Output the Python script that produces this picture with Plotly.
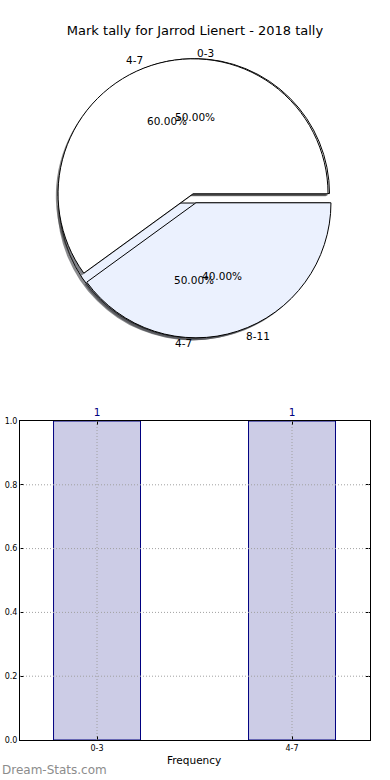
import numpy as np
import plotly.graph_objects as go

# ---------------- data ----------------
title_text = "Mark tally for Jarrod Lienert - 2018 tally"
pie1_labels = ["0-3", "4-7"]
pie1_values = [1, 1]
pie2_labels = ["4-7", "8-11"]
pie2_values = [3, 2]
bar_categories = ["0-3", "4-7"]
bar_values = [1, 1]
y_ticks = [0.0, 0.2, 0.4, 0.6, 0.8, 1.0]

# ---------------- geometry / style ----------------
W, H = 390, 780
FONT = "DejaVu Sans"
CX, CY = 194.5, 198.3          # pie centre (px)
R = 135                         # plotly pie radius (px)
PULL = 0.035
RX, RY = 141, 127.5             # reference ellipse radii for text placement
SIDE = 2 * R * (1 + PULL)
SHX, SHY = -2.2, 2.4            # shadow offset (px)
WEDGE_COLORS = ["#ffffff", "#ebf1fe"]
SHADOW_COLORS = ["rgba(60,60,60,0.6)", "rgba(60,62,66,0.6)"]
GRID = dict(color="#a0a0a0", width=1, dash="1px,2px")


def dom(cx, cy):
    return dict(x=[(cx - SIDE / 2) / W, (cx + SIDE / 2) / W],
                y=[1 - (cy + SIDE / 2) / H, 1 - (cy - SIDE / 2) / H])


def pie(labels, values, colors, cx, cy, line=True):
    # first slice starts at 3 o'clock and runs counter-clockwise
    rot = 90 - 360.0 * values[0] / sum(values)
    return go.Pie(
        labels=labels, values=values, sort=False, direction="counterclockwise",
        rotation=rot, pull=[PULL] * len(values), textinfo="none",
        hoverinfo="skip", showlegend=False, domain=dom(cx, cy),
        marker=dict(colors=colors,
                    line=dict(color="black" if line else "rgba(0,0,0,0)",
                              width=1 if line else 0)),
    )


fig = go.Figure()
for labels, values in [(pie1_labels, pie1_values), (pie2_labels, pie2_values)]:
    fig.add_trace(pie(labels, values, SHADOW_COLORS, CX + SHX, CY + SHY, line=False))
    fig.add_trace(pie(labels, values, WEDGE_COLORS, CX, CY))

# ---------------- pie texts (labels + percentages) ----------------
annotations = []
d = PULL * R
for labels, values in [(pie1_labels, pie1_values), (pie2_labels, pie2_values)]:
    vals = np.array(values, dtype=float)
    tot = vals.sum()
    cum = np.cumsum(vals)
    for lab, v, c in zip(labels, vals, cum):
        th = 2 * np.pi * (c - v / 2) / tot
        ox, oy = d * np.cos(th), d * np.sin(th)
        lx = CX + ox + 1.1 * RX * np.cos(th)
        ly = CY - oy - 1.1 * RY * np.sin(th)
        annotations.append(dict(
            x=lx / W, y=1 - ly / H, xref="paper", yref="paper", text=lab,
            showarrow=False, xanchor="left" if np.cos(th) > 0 else "right",
            yanchor="middle", font=dict(family=FONT, size=10.5, color="black")))
        px_ = CX + ox + 0.6 * RX * np.cos(th)
        py_ = CY - oy - 0.6 * RY * np.sin(th)
        annotations.append(dict(
            x=px_ / W, y=1 - py_ / H, xref="paper", yref="paper",
            text=f"{100 * v / tot:.2f}%", showarrow=False, xanchor="center",
            yanchor="middle", font=dict(family=FONT, size=10.5, color="black")))

# ---------------- bar chart ----------------
fig.add_trace(go.Bar(
    x=bar_categories, y=bar_values, width=0.446,
    marker=dict(color="#cccce6", line=dict(color="#000080", width=1)),
    text=[str(v) for v in bar_values], textposition="outside",
    textfont=dict(family=FONT, size=10.5, color="#000080"),
    cliponaxis=False, hoverinfo="skip", showlegend=False,
    xaxis="x", yaxis="y",
))

# dotted grid drawn above the bars (matplotlib style)
shapes = []
for t in y_ticks[1:-1]:
    shapes.append(dict(type="line", xref="x domain", yref="y", x0=0, x1=1,
                       y0=t, y1=t, line=GRID, layer="above"))
for c in bar_categories:
    shapes.append(dict(type="line", xref="x", yref="y domain", x0=c, x1=c,
                       y0=0, y1=1, line=GRID, layer="above"))

axis_common = dict(
    showline=True, linecolor="black", linewidth=1, mirror="allticks",
    ticks="inside", ticklen=4, tickcolor="black", showgrid=False,
    zeroline=False, tickfont=dict(family=FONT, size=8, color="black"),
    layer="above traces", automargin=False,
)

annotations.append(dict(
    x=0, y=1 - 770 / H, xref="paper", yref="paper", text="Dream-Stats.com",
    showarrow=False, xanchor="left", yanchor="middle",
    font=dict(family=FONT, size=12, color="#8c8c8c")))
annotations.append(dict(
    x=194 / W, y=1 - 760 / H, xref="paper", yref="paper", text="Frequency",
    showarrow=False, xanchor="center", yanchor="middle",
    font=dict(family=FONT, size=10.5, color="black")))

fig.update_layout(
    width=W, height=H, margin=dict(l=0, r=0, t=0, b=0, autoexpand=False),
    paper_bgcolor="white", plot_bgcolor="white", showlegend=False,
    title=dict(text=title_text, x=0.5, xanchor="center", y=1 - 30 / H,
               yanchor="middle", font=dict(family=FONT, size=13, color="black")),
    xaxis=dict(domain=[20 / W, 370 / W], range=[-0.395, 1.4],
               tickvals=bar_categories, ticktext=bar_categories,
               **axis_common),
    yaxis=dict(domain=[1 - 740 / H, 1 - 421 / H], range=[0, 1],
               tickvals=y_ticks, ticktext=[f"{t:.1f}" for t in y_ticks],
               **axis_common),
    annotations=annotations, shapes=shapes,
)

fig.write_html("out.html", config={"displayModeBar": False},
               post_script="document.body.style.margin='0px';")
